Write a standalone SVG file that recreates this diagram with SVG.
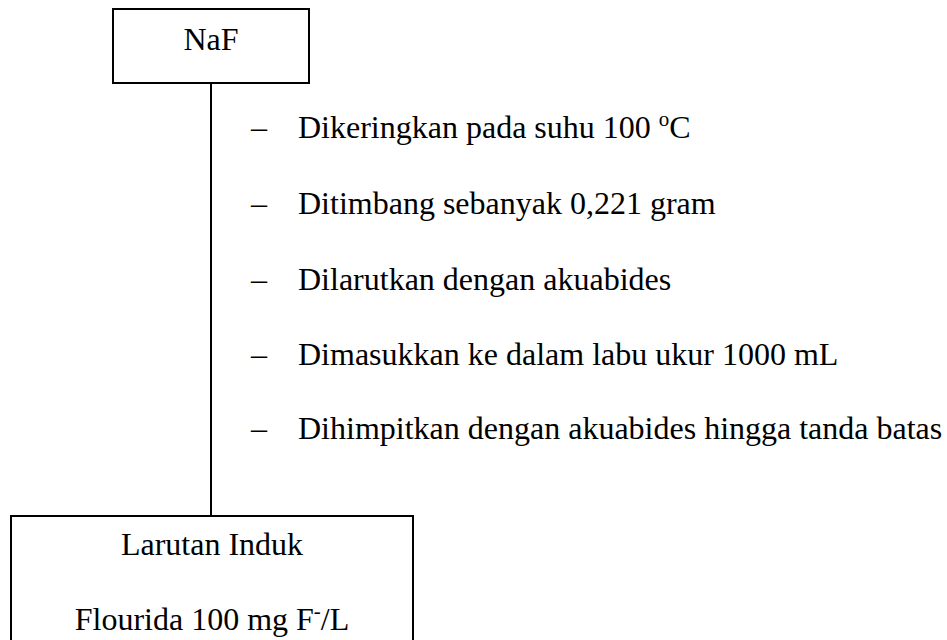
<svg xmlns="http://www.w3.org/2000/svg" width="947" height="640" viewBox="0 0 947 640">
  <style>
    .box { fill: #ffffff; stroke: #000000; stroke-width: 2; }
    .link { stroke: #000000; stroke-width: 2; fill: none; }
    text { font-family: "Liberation Serif", "Times New Roman", serif; font-size: 32px; fill: #000000; }
    .mid { text-anchor: middle; }
    .sup { font-size: 21px; }
  </style>
  <rect width="947" height="640" fill="#ffffff"/>

  <!-- connector between the two boxes -->
  <g id="connectors">
    <line class="link" x1="211" y1="83" x2="211" y2="516"/>
  </g>

  <!-- starting material -->
  <g id="node-naf">
    <rect class="box" x="113" y="9" width="196" height="74"/>
    <text class="mid" x="211" y="50">NaF</text>
  </g>

  <!-- procedure steps -->
  <g id="steps">
    <text x="251" y="138">–</text>
    <text x="298" y="138">Dikeringkan pada suhu 100 <tspan class="sup" dy="-12">o</tspan><tspan dy="12">C</tspan></text>
    <text x="251" y="214">–</text>
    <text x="298" y="214">Ditimbang sebanyak 0,221 gram</text>
    <text x="251" y="290">–</text>
    <text x="298" y="290">Dilarutkan dengan akuabides</text>
    <text x="251" y="365">–</text>
    <text x="298" y="365">Dimasukkan ke dalam labu ukur 1000 mL</text>
    <text x="251" y="439">–</text>
    <text x="298" y="439">Dihimpitkan dengan akuabides hingga tanda batas</text>
  </g>

  <!-- resulting stock solution -->
  <g id="node-larutan-induk">
    <rect class="box" x="11" y="516" width="402" height="140"/>
    <text class="mid" x="212" y="555">Larutan Induk</text>
    <text class="mid" x="212" y="630">Flourida 100 mg F<tspan class="sup" dy="-12">-</tspan><tspan dy="12">/L</tspan></text>
  </g>
</svg>
